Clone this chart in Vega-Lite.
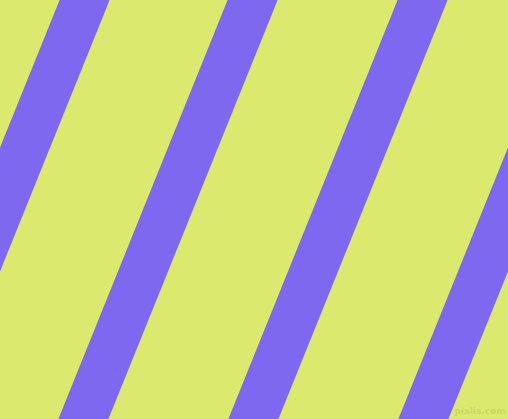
{
  "$schema": "https://vega.github.io/schema/vega-lite/v6.json",
  "autosize": {"type": "fit", "contains": "padding"},
  "width": 508,
  "height": 419,
  "padding": 0,
  "background": "#DBEA6F",
  "config": {"view": {"stroke": null}},
  "layer": [
    {
      "data": {"values": [
        {"stripe": 1, "x": 169, "y": -209},
        {"stripe": 1, "x": -169, "y": 628},
        {"stripe": 2, "x": 337, "y": -209},
        {"stripe": 2, "x": -1, "y": 628},
        {"stripe": 3, "x": 507, "y": -209},
        {"stripe": 3, "x": 169, "y": 628},
        {"stripe": 4, "x": 677, "y": -209},
        {"stripe": 4, "x": 339, "y": 628}
      ]},
      "mark": {"type": "line", "clip": true, "strokeWidth": 46.4, "strokeCap": "butt", "color": "#7F68F0"},
      "encoding": {
        "x": {"field": "x", "type": "quantitative", "scale": {"domain": [0, 508], "nice": false, "zero": false}, "axis": null},
        "y": {"field": "y", "type": "quantitative", "scale": {"domain": [419, 0], "nice": false, "zero": false}, "axis": null},
        "detail": {"field": "stripe"}
      }
    },
    {
      "data": {"values": [{"label": "pixlis.com", "x": 480, "y": 411}]},
      "mark": {"type": "text", "font": "DejaVu Sans", "fontSize": 9, "color": "#C9D865", "fontWeight": "bold"},
      "encoding": {
        "x": {"field": "x", "type": "quantitative"},
        "y": {"field": "y", "type": "quantitative"},
        "text": {"field": "label"}
      }
    }
  ]
}
